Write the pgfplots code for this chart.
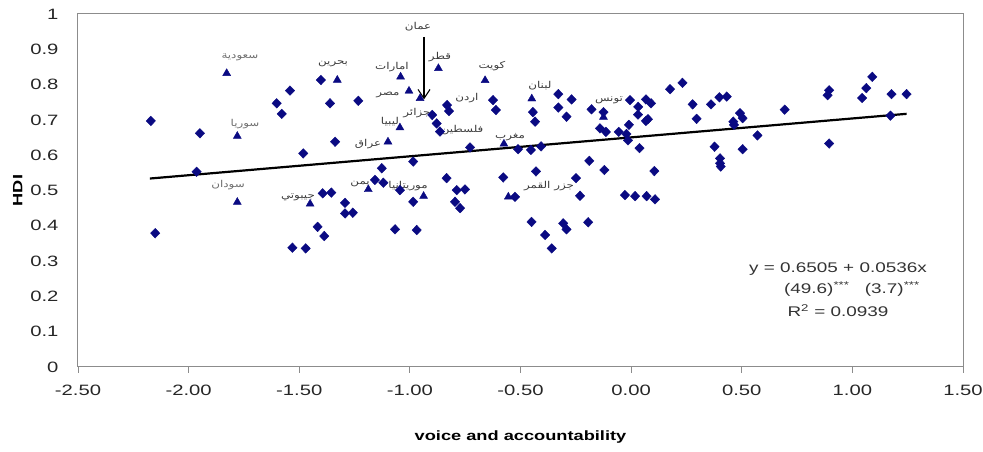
\documentclass[border=0pt]{standalone}
\usepackage{pgfplots}
\pgfplotsset{compat=1.18}
\usepackage{fontspec}
\setmainfont[FakeStretch=1.35]{Liberation Sans}
\newfontfamily\arabicfont[Script=Arabic,FakeStretch=1.25]{DejaVu Sans}
\TeXXeTstate=1
\usetikzlibrary{arrows.meta}
\definecolor{navy}{RGB}{10,10,130}
\definecolor{axgray}{RGB}{140,140,140}
\definecolor{lab}{RGB}{60,60,60}
\definecolor{labl}{RGB}{110,110,110}
\newcommand{\ar}[1]{{\arabicfont\fontsize{9.5}{11}\selectfont\beginR #1\endR}}

\pgfplotstableread{
x y
-2.171 0.697
-2.151 0.379
-1.964 0.553
-1.949 0.662
-1.542 0.783
-1.602 0.747
-1.579 0.717
-1.402 0.813
-1.361 0.747
-1.338 0.638
-1.482 0.605
-1.394 0.492
-1.355 0.494
-1.293 0.465
-1.293 0.435
-1.258 0.437
-1.417 0.397
-1.387 0.371
-1.531 0.338
-1.471 0.336
-1.233 0.754
-1.127 0.563
-1.158 0.530
-1.120 0.522
-1.045 0.501
-0.985 0.468
-0.985 0.582
-0.834 0.535
-0.788 0.501
-0.751 0.503
-0.796 0.468
-0.773 0.450
-1.067 0.390
-0.969 0.388
-0.899 0.714
-0.879 0.690
-0.864 0.667
-0.832 0.742
-0.823 0.725
-0.624 0.756
-0.611 0.728
-0.444 0.722
-0.434 0.695
-0.329 0.773
-0.329 0.735
-0.728 0.622
-0.511 0.617
-0.453 0.615
-0.407 0.625
-0.578 0.537
-0.525 0.482
-0.430 0.554
-0.450 0.411
-0.389 0.374
-0.359 0.336
-0.307 0.407
-0.292 0.390
-0.269 0.758
-0.292 0.709
-0.179 0.730
-0.125 0.722
-0.141 0.676
-0.114 0.666
-0.056 0.666
-0.021 0.660
-0.014 0.642
-0.010 0.686
-0.005 0.756
0.032 0.737
0.031 0.715
0.067 0.758
0.090 0.747
0.067 0.697
0.076 0.702
0.176 0.787
0.232 0.805
0.278 0.744
0.296 0.703
0.361 0.744
0.399 0.764
0.432 0.766
0.492 0.719
0.504 0.705
0.462 0.695
0.465 0.686
0.571 0.656
0.504 0.617
0.377 0.624
0.402 0.591
0.402 0.577
0.405 0.568
0.038 0.620
-0.189 0.584
-0.121 0.558
0.105 0.555
-0.249 0.535
-0.231 0.485
-0.028 0.487
0.018 0.484
0.070 0.484
0.108 0.475
-0.194 0.410
0.694 0.729
0.888 0.770
0.895 0.784
0.895 0.633
1.044 0.762
1.063 0.790
1.090 0.822
1.177 0.773
1.245 0.773
1.172 0.712
}\others

\pgfplotstableread{
x y
-1.828 0.832
-1.780 0.654
-1.328 0.813
-1.780 0.467
-1.451 0.462
-1.042 0.822
-1.004 0.782
-0.954 0.761
-0.871 0.846
-0.660 0.812
-1.045 0.678
-1.099 0.638
-0.449 0.760
-0.575 0.632
-0.125 0.708
-1.188 0.503
-0.938 0.484
-0.555 0.482
}\arab

\begin{document}
\begin{tikzpicture}
\useasboundingbox (-78pt,-85pt) rectangle (905pt,367pt);
\begin{axis}[
  scale only axis, width=885pt, height=353pt,
  at={(0,0)}, anchor=south west,
  xmin=-2.5, xmax=1.5, ymin=0, ymax=1,
  xtick={-2.5,-2,-1.5,-1,-0.5,0,0.5,1,1.5},
  xticklabels={-2.50,-2.00,-1.50,-1.00,-0.50,0.00,0.50,1.00,1.50},
  ytick={0,0.1,0.2,0.3,0.4,0.5,0.6,0.7,0.8,0.9,1},
  yticklabels={0,0.1,0.2,0.3,0.4,0.5,0.6,0.7,0.8,0.9,1},
  xtick pos=left, ytick pos=left,
  tick align=outside, major tick length=6pt,
  xtick style={axgray, line width=0.8pt},
  ytick style={draw=none},
  axis line style={axgray, line width=1pt},
  tick label style={font=\fontsize{15}{17}\selectfont, text=black!85},
  xticklabel style={yshift=-8pt},
  yticklabel style={xshift=-10pt},
  xlabel={\textbf{voice and accountability}},
  ylabel={\textbf{HDI}},
  label style={font=\fontsize{13.5}{16}\selectfont},
  xlabel style={at={(axis description cs:0.5,-0.198)}, anchor=center},
  ylabel style={at={(axis description cs:-0.068,0.5)}, anchor=center},
  clip=false,
]
\addplot[only marks, mark=diamond*, mark size=4.8pt, mark options={xscale=1.3}, color=navy] table {\others};
\addplot[only marks, mark=triangle*, mark size=4.6pt, color=navy] table {\arab};
\addplot[black, line width=2.2pt] coordinates {(-2.175,0.5339) (1.245,0.7172)};

\draw[black, line width=1.1pt, -{Straight Barb[length=9pt,width=12pt]}] (axis cs:-0.936,0.935) -- (axis cs:-0.936,0.758);

\node[text=labl] at (axis cs:-1.768,0.878) {\ar{سعودية}};
\node[text=labl] at (axis cs:-1.745,0.688) {\ar{سوريا}};
\node[text=lab] at (axis cs:-1.347,0.858) {\ar{بحرين}};
\node[text=labl] at (axis cs:-1.822,0.516) {\ar{سودان}};
\node[text=lab] at (axis cs:-1.506,0.482) {\ar{جيبوتي}};
\node[text=lab] at (axis cs:-1.081,0.850) {\ar{امارات}};
\node[text=lab] at (axis cs:-1.099,0.771) {\ar{مصر}};
\node[text=lab] at (axis cs:-0.963,0.963) {\ar{عمان}};
\node[text=lab] at (axis cs:-0.864,0.878) {\ar{قطر}};
\node[text=lab] at (axis cs:-0.629,0.853) {\ar{كويت}};
\node[text=lab] at (axis cs:-0.742,0.762) {\ar{اردن}};
\node[text=lab] at (axis cs:-0.412,0.796) {\ar{لبنان}};
\node[text=lab] at (axis cs:-0.968,0.720) {\ar{جزائر}};
\node[text=lab] at (axis cs:-1.090,0.694) {\ar{ليبيا}};
\node[text=lab] at (axis cs:-0.764,0.671) {\ar{فلسطين}};
\node[text=lab] at (axis cs:-1.189,0.632) {\ar{عراق}};
\node[text=lab] at (axis cs:-0.547,0.652) {\ar{مغرب}};
\node[text=lab] at (axis cs:-0.100,0.754) {\ar{تونس}};
\node[text=lab] at (axis cs:-1.225,0.518) {\ar{يمن}};
\node[text=lab] at (axis cs:-1.008,0.513) {\ar{موريتانيا}};
\node[text=lab] at (axis cs:-0.371,0.513) {\ar{جزر القمر}};

\node[font=\fontsize{14}{16}\selectfont, text=black!80] at (axis cs:0.935,0.278) {y = 0.6505 + 0.0536x};
\node[font=\fontsize{14}{16}\selectfont, text=black!80] at (axis cs:0.998,0.221) {(49.6)\textsuperscript{***}\hspace{1.1em}(3.7)\textsuperscript{***}};
\node[font=\fontsize{14}{16}\selectfont, text=black!80] at (axis cs:0.935,0.159) {R\textsuperscript{2} = 0.0939};
\end{axis}
\end{tikzpicture}
\end{document}
